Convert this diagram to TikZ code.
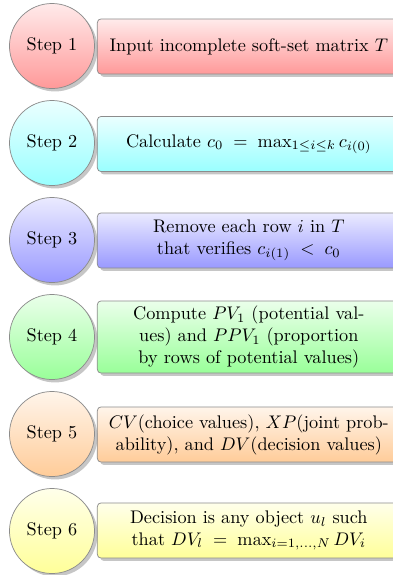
\documentclass[tikz,border=0pt]{standalone}
\usetikzlibrary{shadows}
\begin{document}
\begin{tikzpicture}[x=0.548pt,y=-0.548pt,
  stepcirc/.style={circle, draw=black!45, line width=0.4pt, minimum size=46.6pt, inner sep=0pt,
    top color=#1!8, bottom color=#1!40,
    drop shadow={shadow xshift=1.6pt, shadow yshift=-1.6pt, opacity=0.45}},
  steprect/.style={rectangle, rounded corners=2pt, draw=black!45, line width=0.4pt,
    minimum width=166pt, minimum height=30.2pt, inner sep=2pt, align=center, anchor=west,
    top color=#1!8, bottom color=#1!40,
    drop shadow={shadow xshift=1.6pt, shadow yshift=-1.6pt, opacity=0.45}}]
\useasboundingbox (0,0) rectangle (393,575);
\node[steprect=red] (r1) at (97,46.5) {Input incomplete soft-set matrix $T$};
\node[stepcirc=red] (c1) at (52,46) {Step 1};
\node[steprect=cyan] (r2) at (97,144) {Calculate $c_0 \;=\; \max_{1\le i\le k} c_{i(0)}$};
\node[stepcirc=cyan] (c2) at (52,143) {Step 2};
\node[steprect=blue] (r3) at (97,240.5) {Remove each row $i$ in $T$\\ that verifies $c_{i(1)} \;<\; c_0$};
\node[stepcirc=blue] (c3) at (52,240) {Step 3};
\node[steprect=green, minimum height=39.5pt] (r4) at (97,337) {Compute $PV_1$ (potential val-\\ ues) and $PPV_1$ (proportion\\ by rows of potential values)};
\node[stepcirc=green] (c4) at (52,337) {Step 4};
\node[steprect=orange] (r5) at (97,434.5) {$CV$(choice values), $XP$(joint prob-\\ ability), and $DV$(decision values)};
\node[stepcirc=orange] (c5) at (52,434) {Step 5};
\node[steprect=yellow] (r6) at (97,530.5) {Decision is any object $u_l$ such\\ that $DV_l \;=\; \max_{i=1,\dots,N} DV_i$};
\node[stepcirc=yellow] (c6) at (52,531) {Step 6};
\end{tikzpicture}
\end{document}
